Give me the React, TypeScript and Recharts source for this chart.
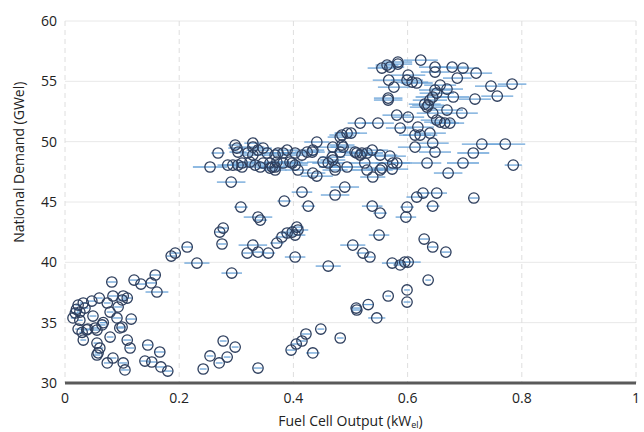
import { ScatterChart, Scatter, XAxis, YAxis, CartesianGrid, ErrorBar } from 'recharts';

// [fuel cell output kWel, national demand GWel, x error]
const lowCluster: [number, number, number][] = [
  [0.032, 36.63, 0.006], [0.023, 36.46, 0.005], [0.035, 36.21, 0.006], [0.026, 35.88, 0.005],
  [0.047, 36.79, 0.006], [0.018, 35.8, 0.005], [0.014, 35.39, 0.004], [0.049, 35.55, 0.006],
  [0.079, 35.88, 0.006], [0.093, 36.3, 0.007], [0.091, 35.39, 0.008], [0.116, 35.3, 0.008],
  [0.065, 34.81, 0.006], [0.023, 34.47, 0.005], [0.04, 34.47, 0.006], [0.056, 34.39, 0.006],
  [0.096, 34.56, 0.007], [0.1, 34.64, 0.007], [0.032, 33.56, 0.005], [0.079, 33.81, 0.006],
  [0.056, 33.31, 0.006], [0.061, 32.9, 0.006], [0.056, 32.32, 0.006], [0.109, 33.56, 0.007],
  [0.114, 32.9, 0.007], [0.145, 33.15, 0.008], [0.166, 32.57, 0.009], [0.074, 31.66, 0.006],
  [0.084, 32.07, 0.006], [0.102, 31.66, 0.007], [0.105, 31.08, 0.007], [0.14, 31.82, 0.008],
  [0.152, 31.74, 0.008], [0.168, 31.33, 0.009], [0.18, 30.99, 0.008], [0.06, 37.04, 0.006],
  [0.084, 37.21, 0.007], [0.102, 37.21, 0.007], [0.109, 37.04, 0.008], [0.1, 36.88, 0.007],
  [0.082, 38.37, 0.008], [0.121, 38.53, 0.008], [0.133, 38.2, 0.009], [0.158, 38.95, 0.009],
  [0.151, 38.29, 0.01], [0.161, 37.54, 0.02], [0.193, 40.77, 0.008], [0.186, 40.52, 0.008],
  [0.214, 41.27, 0.01], [0.231, 39.94, 0.022], [0.074, 36.63, 0.006], [0.038, 34.4, 0.005],
  [0.03, 34.2, 0.005], [0.058, 32.5, 0.006], [0.067, 35.0, 0.006], [0.053, 34.56, 0.006],
  [0.026, 35.2, 0.005], [0.02, 36.1, 0.005],
];

const demandBand: [number, number, number][] = [
  [0.254, 47.9, 0.03], [0.268, 49.06, 0.012], [0.291, 46.65, 0.025], [0.298, 49.72, 0.012],
  [0.301, 49.47, 0.015], [0.303, 49.14, 0.015], [0.285, 48.06, 0.018], [0.294, 48.06, 0.02],
  [0.303, 48.06, 0.02], [0.31, 48.23, 0.02], [0.31, 47.9, 0.015], [0.32, 49.06, 0.015],
  [0.329, 49.55, 0.02], [0.338, 49.3, 0.02], [0.347, 49.47, 0.015], [0.354, 49.06, 0.015],
  [0.329, 49.88, 0.015], [0.329, 48.89, 0.022], [0.324, 48.31, 0.02], [0.333, 48.06, 0.022],
  [0.342, 47.9, 0.02], [0.359, 47.81, 0.022], [0.368, 47.9, 0.022], [0.359, 48.23, 0.02],
  [0.371, 48.31, 0.022], [0.363, 47.9, 0.022], [0.368, 47.65, 0.02], [0.347, 48.23, 0.022],
  [0.368, 48.89, 0.02], [0.382, 49.06, 0.022], [0.389, 49.3, 0.02], [0.373, 49.06, 0.022],
  [0.403, 49.06, 0.022], [0.415, 48.89, 0.022], [0.433, 49.14, 0.022], [0.382, 48.23, 0.028],
  [0.398, 48.23, 0.028], [0.403, 48.06, 0.022], [0.394, 48.31, 0.022], [0.408, 47.65, 0.022],
  [0.424, 49.14, 0.022], [0.434, 49.3, 0.02], [0.441, 49.97, 0.022], [0.434, 47.4, 0.022],
  [0.441, 47.15, 0.028], [0.452, 48.31, 0.028], [0.461, 48.23, 0.028], [0.473, 47.9, 0.028],
  [0.469, 48.48, 0.022], [0.473, 47.65, 0.022], [0.468, 48.72, 0.022], [0.482, 49.14, 0.022],
  [0.469, 49.55, 0.028], [0.485, 49.72, 0.022], [0.487, 49.55, 0.022], [0.482, 50.38, 0.022],
  [0.485, 50.55, 0.022], [0.494, 50.71, 0.022], [0.501, 50.71, 0.028], [0.517, 51.54, 0.022],
  [0.548, 51.54, 0.028], [0.494, 47.9, 0.028], [0.508, 49.14, 0.028], [0.511, 49.06, 0.022],
  [0.517, 48.89, 0.028], [0.52, 49.06, 0.022], [0.529, 49.06, 0.028], [0.538, 49.3, 0.028],
  [0.552, 48.89, 0.03], [0.569, 48.81, 0.028], [0.574, 48.23, 0.03], [0.525, 48.23, 0.028],
  [0.529, 47.65, 0.028], [0.539, 47.07, 0.022], [0.555, 47.81, 0.028], [0.573, 47.73, 0.028],
  [0.581, 48.23, 0.028], [0.552, 47.65, 0.022],
];

const upperCluster: [number, number, number][] = [
  [0.581, 52.2, 0.025], [0.601, 52.04, 0.028], [0.587, 51.13, 0.025], [0.566, 53.45, 0.025],
  [0.618, 51.21, 0.028], [0.622, 50.55, 0.03], [0.613, 50.55, 0.028], [0.639, 50.71, 0.028],
  [0.644, 49.88, 0.028], [0.613, 49.55, 0.03], [0.648, 49.14, 0.028], [0.634, 48.23, 0.025],
  [0.657, 51.62, 0.028], [0.665, 51.54, 0.025], [0.674, 51.54, 0.025], [0.651, 51.79, 0.028],
  [0.644, 52.37, 0.028], [0.669, 52.62, 0.028], [0.695, 52.37, 0.028], [0.63, 53.11, 0.028],
  [0.636, 53.03, 0.028], [0.639, 53.45, 0.03], [0.644, 53.7, 0.03], [0.651, 54.03, 0.03],
  [0.648, 54.28, 0.028], [0.657, 54.69, 0.028], [0.669, 54.36, 0.028], [0.68, 53.7, 0.028],
  [0.718, 53.53, 0.028], [0.746, 54.61, 0.028], [0.757, 53.78, 0.028], [0.783, 54.77, 0.025],
  [0.73, 49.8, 0.035], [0.771, 49.8, 0.035], [0.715, 49.06, 0.028], [0.697, 48.23, 0.028],
  [0.785, 48.06, 0.015], [0.671, 47.4, 0.025], [0.555, 56.1, 0.025], [0.569, 56.18, 0.025],
  [0.583, 56.6, 0.025], [0.583, 56.43, 0.025], [0.564, 56.35, 0.02], [0.623, 56.76, 0.03],
  [0.648, 56.18, 0.028], [0.648, 55.77, 0.025], [0.678, 56.18, 0.028], [0.697, 56.1, 0.028],
  [0.72, 55.68, 0.028], [0.687, 55.27, 0.025], [0.601, 55.52, 0.03], [0.599, 55.1, 0.028],
  [0.608, 54.94, 0.028], [0.616, 54.86, 0.028], [0.567, 55.1, 0.028], [0.576, 54.52, 0.028],
  [0.566, 53.61, 0.025], [0.634, 52.87, 0.03],
];

const midRise: [number, number, number][] = [
  [0.415, 45.82, 0.018], [0.49, 46.24, 0.025], [0.473, 45.58, 0.025], [0.384, 45.08, 0.012],
  [0.426, 44.66, 0.012], [0.308, 44.58, 0.012], [0.538, 44.66, 0.018], [0.552, 44.08, 0.012],
  [0.599, 44.58, 0.012], [0.597, 43.75, 0.018], [0.616, 45.41, 0.018], [0.627, 45.74, 0.012],
  [0.651, 45.74, 0.018], [0.644, 44.66, 0.012], [0.716, 45.33, 0.008], [0.338, 43.75, 0.025],
  [0.342, 43.5, 0.012], [0.271, 42.51, 0.008], [0.277, 42.84, 0.008], [0.275, 41.52, 0.007],
  [0.329, 41.43, 0.025], [0.319, 40.77, 0.008], [0.338, 40.85, 0.012], [0.356, 40.77, 0.012],
  [0.371, 41.6, 0.012], [0.38, 42.1, 0.012], [0.389, 42.43, 0.012], [0.398, 42.51, 0.018],
  [0.406, 42.92, 0.012], [0.403, 42.26, 0.018], [0.408, 42.68, 0.018], [0.403, 40.44, 0.018],
  [0.292, 39.11, 0.018], [0.461, 39.69, 0.022], [0.504, 41.43, 0.022], [0.522, 40.77, 0.012],
  [0.534, 40.44, 0.008], [0.55, 42.26, 0.018], [0.573, 39.94, 0.018], [0.587, 39.78, 0.012],
  [0.595, 40.02, 0.012], [0.601, 40.02, 0.022], [0.629, 41.93, 0.008], [0.644, 41.27, 0.008],
  [0.667, 40.85, 0.008], [0.636, 38.53, 0.005], [0.599, 37.71, 0.005], [0.566, 37.21, 0.005],
];

const lowRise: [number, number, number][] = [
  [0.531, 36.5, 0.01], [0.599, 36.71, 0.006], [0.51, 36.21, 0.01], [0.511, 36.05, 0.01],
  [0.546, 35.39, 0.015], [0.448, 34.47, 0.006], [0.482, 33.73, 0.006], [0.422, 34.06, 0.008],
  [0.415, 33.48, 0.008], [0.405, 33.23, 0.008], [0.396, 32.73, 0.008], [0.434, 32.49, 0.012],
  [0.338, 31.24, 0.008], [0.277, 33.48, 0.006], [0.298, 32.98, 0.006], [0.254, 32.24, 0.006],
  [0.27, 31.66, 0.006], [0.284, 32.15, 0.006], [0.242, 31.16, 0.006],
];

const xTicks = [0, 0.2, 0.4, 0.6, 0.8, 1];
const yTicks = [30, 35, 40, 45, 50, 55, 60];

const points = [...lowCluster, ...demandBand, ...upperCluster, ...midRise, ...lowRise].map(
  ([x, y, ex]) => ({ x, y, ex }),
);

const FONT = '"Open Sans", "Noto Sans", sans-serif';
const tickStyle = { fontSize: 14, fill: '#222', fontFamily: FONT };

const Ring = (props: any) => (
  <circle cx={props.cx} cy={props.cy} r={5.2} fill="none" stroke="#2e3f5e" strokeWidth={1.3} />
);

const NoMark = () => <g />;

const YLabel = (props: any) => {
  const vb = props.viewBox;
  const cx = vb.x + 19;
  const cy = vb.y + vb.height * 0.39;
  return (
    <text
      x={cx}
      y={cy}
      transform={`rotate(-90 ${cx} ${cy})`}
      textAnchor="middle"
      dominantBaseline="central"
      fontSize={14}
      fill="#222"
      fontFamily={FONT}
    >
      National Demand (GWel)
    </text>
  );
};

const XLabel = (props: any) => {
  const vb = props.viewBox;
  const cx = vb.x + vb.width / 2;
  const cy = vb.y + 37;
  return (
    <text x={cx} y={cy} textAnchor="middle" dominantBaseline="central" fontSize={14} fill="#222" fontFamily={FONT}>
      Fuel Cell Output (kW
      <tspan fontSize={9} dy={4}>el</tspan>
      <tspan dy={-4}>)</tspan>
    </text>
  );
};

export default function App() {
  return (
    <div style={{ position: 'absolute', left: 0, top: 0, background: '#fff' }}>
      <ScatterChart width={644} height={432} margin={{ top: 21, right: 8, left: 0, bottom: 0 }}>
        <CartesianGrid vertical={false} stroke="#e8e8e8" />
        <CartesianGrid horizontal={false} stroke="#dedede" strokeDasharray="5 4" />
        <XAxis
          type="number"
          dataKey="x"
          domain={[0, 1]}
          ticks={xTicks}
          tick={tickStyle}
          tickLine={false}
          tickSize={8}
          axisLine={{ stroke: '#5a5a5a', strokeWidth: 3 }}
          height={49}
          label={XLabel}
        />
        <YAxis
          type="number"
          dataKey="y"
          domain={[30, 60]}
          ticks={yTicks}
          tick={tickStyle}
          tickLine={false}
          axisLine={false}
          width={65}
          label={YLabel}
        />
        <Scatter data={points} shape={NoMark} isAnimationActive={false}>
          <ErrorBar dataKey="ex" direction="x" width={0} stroke="#6aa3d8" strokeWidth={1.3} isAnimationActive={false} />
        </Scatter>
        <Scatter data={points} shape={Ring} isAnimationActive={false} />
      </ScatterChart>
    </div>
  );
}
